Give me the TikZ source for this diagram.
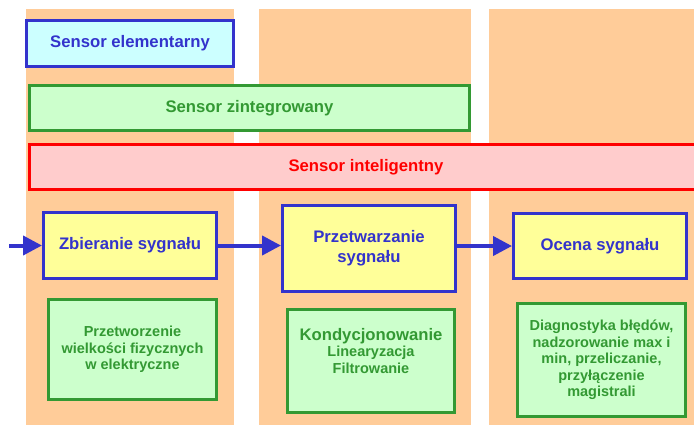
\documentclass[tikz,border=0pt]{standalone}
\usepackage{fontspec}
\setmainfont{Liberation Sans}
\usetikzlibrary{arrows.meta}
\definecolor{colbg}{HTML}{FFCC99}
\definecolor{cblue}{HTML}{3333CC}
\definecolor{cgreen}{HTML}{339933}
\definecolor{cred}{HTML}{FF0000}
\definecolor{fcyan}{HTML}{CCFFFF}
\definecolor{fgreen}{HTML}{CCFFCC}
\definecolor{fpink}{HTML}{FFCCCC}
\definecolor{fyellow}{HTML}{FFFF99}
\tikzset{
  colrect/.style={fill=colbg, draw=none},
  bigfont/.style={font=\bfseries\fontsize{16.7}{20}\selectfont},
  layerbox/.style={line width=3pt, bigfont, anchor=north west, inner sep=0pt},
  bluebox/.style={draw=cblue, line width=3pt, fill=fyellow, text=cblue, bigfont, align=center, anchor=north west, inner sep=0pt},
  greenbox/.style={draw=cgreen, line width=3pt, fill=fgreen, text=cgreen, font=\bfseries\fontsize{14.5}{16.5}\selectfont, align=center, anchor=north west, inner sep=0pt},
  flow/.style={draw=cblue, line width=4pt, -{Triangle[length=19pt,width=19pt]}},
}
\begin{document}
\begin{tikzpicture}[x=1pt,y=-1pt]
\useasboundingbox (0,0) rectangle (694,425);
% columns
\fill[colrect] (26,9) rectangle (234,425);
\fill[colrect] (259,9) rectangle (471,425);
\fill[colrect] (489,9) rectangle (694,425);
% sensor layers
\node[layerbox, draw=cblue, fill=fcyan, text=cblue, minimum width=207pt, minimum height=46pt] (elem) at (25,19) {Sensor elementarny};
\node[layerbox, draw=cgreen, fill=fgreen, text=cgreen, minimum width=440pt, minimum height=45pt] (zint) at (28,84) {Sensor zintegrowany};
\node[layerbox, draw=cred, fill=fpink, text=cred, minimum width=673pt, minimum height=45pt] (intel) at (28,143) {Sensor inteligentny};
% processing boxes
\node[bluebox, minimum width=173pt, minimum height=66pt] (zbier) at (42,211) {Zbieranie sygnału};
\node[bluebox, minimum width=173pt, minimum height=86pt] (przetw) at (281,204) {Przetwarzanie\\sygnału};
\node[bluebox, minimum width=173pt, minimum height=65pt] (ocena) at (512,212) {Ocena sygnału};
% description boxes
\node[greenbox, minimum width=168pt, minimum height=100pt] (d1) at (47,298) {Przetworzenie\\wielkości fizycznych\\w elektryczne};
\node[greenbox, minimum width=167pt, minimum height=103pt] (d2) at (286,308) {{\fontsize{16.7}{18}\selectfont Kondycjonowanie}\\Linearyzacja\\Filtrowanie\\[4pt]};
\node[greenbox, minimum width=168pt, minimum height=113pt] (d3) at (516,302) {Diagnostyka błędów,\\nadzorowanie max i\\min, przeliczanie,\\przyłączenie\\magistrali};
% flow arrows
\coordinate (in) at (9,0 |- zbier.west);
\draw[flow] (in |- zbier.west) -- (zbier.west);
\draw[flow] (zbier.east) -- (zbier.east -| przetw.west);
\draw[flow] (przetw.east |- ocena.west) -- (ocena.west);
\end{tikzpicture}
\end{document}
